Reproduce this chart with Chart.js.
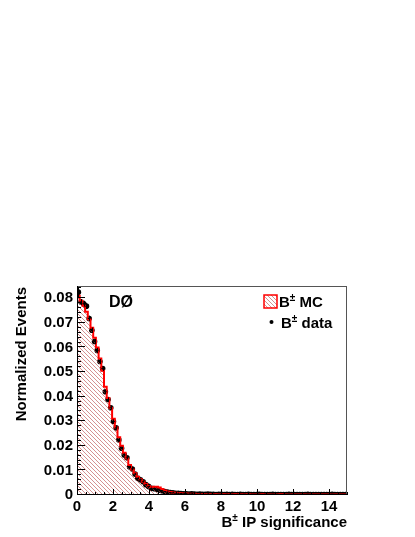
<!DOCTYPE html>
<html>
<head>
<meta charset="utf-8">
<script src="https://cdn.jsdelivr.net/npm/chart.js@4.4.1/dist/chart.umd.min.js"></script>
<style>
html,body{margin:0;padding:0;background:#fff;}
canvas{display:block;}
</style>
</head>
<body>
<canvas id="c" width="415" height="537"></canvas>
<script>
// histogram binning (0 - 15, 100 bins)
const binWidth = 0.15;
const nBins = 100;

// B± MC, normalized
const mcValues = [
 0.0810,0.0790,0.0770,0.0745,0.0715,0.0680,0.0640,0.0600,0.0555,0.0505,
 0.0440,0.0395,0.0355,0.0310,0.0275,0.0235,0.0200,0.0172,0.0148,0.0122,
 0.0104,0.0088,0.0074,0.0064,0.0054,0.0045,0.0037,0.0031,0.0034,0.0034,
 0.0030,0.0024,0.0018,0.0014,0.0012,0.0010,0.0009,0.0008,0.0007,0.0006,
 0.0006,0.0005,0.0005,0.0005,0.0004,0.0004,0.0004,0.0004,0.0003,0.0004,
 0.0003,0.0003,0.0003,0.0003,0.0003,0.0003,0.0002,0.0003,0.0003,0.0002,
 0.0003,0.0002,0.0002,0.0003,0.0002,0.0002,0.0002,0.0002,0.0003,0.0002,
 0.0002,0.0002,0.0002,0.0002,0.0002,0.0003,0.0002,0.0002,0.0002,0.0002,
 0.0002,0.0002,0.0002,0.0002,0.0002,0.0002,0.0002,0.0002,0.0002,0.0002,
 0.0002,0.0002,0.0002,0.0002,0.0002,0.0002,0.0002,0.0002,0.0002,0.0002
];

// B± data, normalized
const dataValues = [
 0.0825,0.0785,0.0778,0.0768,0.0718,0.0670,0.0624,0.0588,0.0543,0.0514,
 0.0420,0.0388,0.0355,0.0299,0.0273,0.0224,0.0190,0.0163,0.0151,0.0114,
 0.0106,0.0085,0.0068,0.0062,0.0054,0.0042,0.0035,0.0027,0.0026,0.0023,
 0.0020,0.0017,0.0014,0.0012,0.0010,0.0009,0.0007,0.0007,0.0006,0.0005,
 0.0005,0.0004,0.0005,0.0004,0.0003,0.0004,0.0003,0.0003,0.0004,0.0003,
 0.0003,0.0002,0.0003,0.0003,0.0002,0.0003,0.0002,0.0003,0.0002,0.0002,
 0.0003,0.0002,0.0002,0.0003,0.0002,0.0002,0.0002,0.0003,0.0002,0.0002,
 0.0002,0.0002,0.0003,0.0002,0.0002,0.0002,0.0002,0.0002,0.0003,0.0002,
 0.0002,0.0002,0.0002,0.0002,0.0002,0.0003,0.0002,0.0002,0.0002,0.0002,
 0.0002,0.0002,0.0002,0.0002,0.0003,0.0002,0.0002,0.0002,0.0002,0.0002
];

// statistical errors on data
const dataErrors = [
 0.0022,0.0012,0.0012,0.0012,0.0011,0.0011,0.0011,0.0010,0.0010,0.0010,
 0.0009,0.0009,0.0008,0.0008,0.0007,0.0007,0.0006,0.0006,0.0006,0.0005,
 0.0005,0.0004,0.0004,0.0004,0.0003,0.0003,0.0003,0.0003,0.0003,0.0002,
 0.0002,0.0002,0.0002,0.0002,0.0002,0.0002,0.0002,0.0002,0.0002,0.0002,
 0.0002,0.0002,0.0002,0.0002,0.0002,0.0002,0.0002,0.0002,0.0002,0.0002,
 0.0001,0.0001,0.0001,0.0001,0.0001,0.0001,0.0001,0.0001,0.0001,0.0001,
 0.0001,0.0001,0.0001,0.0001,0.0001,0.0001,0.0001,0.0001,0.0001,0.0001,
 0.0001,0.0001,0.0001,0.0001,0.0001,0.0001,0.0001,0.0001,0.0001,0.0001,
 0.0001,0.0001,0.0001,0.0001,0.0001,0.0001,0.0001,0.0001,0.0001,0.0001,
 0.0001,0.0001,0.0001,0.0001,0.0001,0.0001,0.0001,0.0001,0.0001,0.0001
];

const xTicks = [0, 2, 4, 6, 8, 10, 12, 14];
const yTicks = [0, 0.01, 0.02, 0.03, 0.04, 0.05, 0.06, 0.07, 0.08];
const xMinorStep = 0.5;
const yMinorStep = 0.002;
const xMax = 15, yMax = 0.085;

const FONT = '"Liberation Sans", Arial, Helvetica, sans-serif';

// bin edges / centres
const binCenters = dataValues.map((_, i) => (i + 0.5) * binWidth);
const mcOutline = [];
mcValues.forEach((v, i) => {
  mcOutline.push({x: i * binWidth, y: v});
  mcOutline.push({x: (i + 1) * binWidth, y: v});
});
const dataPoints = dataValues.map((v, i) => ({x: binCenters[i], y: v}));

// thin red hatch, lines running down to the right
function makeHatch() {
  const p = document.createElement('canvas');
  p.width = 4; p.height = 4;
  const g = p.getContext('2d');
  g.strokeStyle = 'rgb(185,70,70)';
  g.lineWidth = 0.6;
  g.beginPath();
  g.moveTo(-1, -1); g.lineTo(5, 5);
  g.moveTo(-1, 3); g.lineTo(1, 5);
  g.moveTo(3, -1); g.lineTo(5, 1);
  g.stroke();
  return g.createPattern(p, 'repeat');
}
const hatch = makeHatch();

// text with superscript pieces
function richWidth(ctx, parts) {
  let w = 0;
  parts.forEach(p => { ctx.font = 'bold ' + p.size + 'px ' + FONT; w += ctx.measureText(p.t).width; });
  return w;
}
function drawRich(ctx, parts, x, y) {
  ctx.textBaseline = 'alphabetic';
  ctx.textAlign = 'left';
  parts.forEach(p => {
    ctx.font = 'bold ' + p.size + 'px ' + FONT;
    ctx.fillText(p.t, x, y + (p.dy || 0));
    x += ctx.measureText(p.t).width;
  });
}

const rootDecor = {
  id: 'rootDecor',
  afterDatasetsDraw(chart) {
    const {ctx, chartArea: a, scales: {x, y}} = chart;
    ctx.save();
    ctx.beginPath();
    ctx.rect(a.left, a.top, a.right - a.left, a.bottom - a.top);
    ctx.clip();
    ctx.strokeStyle = '#000';
    ctx.lineWidth = 1;
    ctx.beginPath();
    dataValues.forEach((v, i) => {
      const xc = Math.round(x.getPixelForValue(binCenters[i])) + 0.5;
      const x0 = x.getPixelForValue(binCenters[i] - binWidth / 2);
      const x1 = x.getPixelForValue(binCenters[i] + binWidth / 2);
      const yc = y.getPixelForValue(v);
      ctx.moveTo(xc, y.getPixelForValue(v - dataErrors[i]));
      ctx.lineTo(xc, y.getPixelForValue(v + dataErrors[i]));
      ctx.moveTo(x0, yc);
      ctx.lineTo(x1, yc);
    });
    ctx.stroke();
    ctx.restore();
  },
  afterDraw(chart) {
    const {ctx, chartArea: a, scales: {x, y}} = chart;
    ctx.save();
    // frame
    ctx.strokeStyle = '#555';
    ctx.lineWidth = 1;
    ctx.strokeRect(a.left + 0.5, a.top + 0.5, a.right - a.left - 1, a.bottom - a.top - 1);
    ctx.strokeStyle = '#000';
    ctx.beginPath();
    ctx.moveTo(a.left + 0.5, a.top); ctx.lineTo(a.left + 0.5, a.bottom);
    ctx.moveTo(a.left, a.bottom - 0.5); ctx.lineTo(a.right, a.bottom - 0.5);
    // ticks pointing into the frame
    for (let v = 0; v <= yMax + 1e-9; v += yMinorStep) {
      const py = Math.round(y.getPixelForValue(v)) - 0.5;
      const major = yTicks.some(t => Math.abs(t - v) < 1e-9);
      ctx.moveTo(a.left, py); ctx.lineTo(a.left + (major ? 8 : 4), py);
    }
    for (let v = 0; v <= xMax + 1e-9; v += xMinorStep) {
      const px = Math.round(x.getPixelForValue(v)) + 0.5;
      const major = xTicks.some(t => Math.abs(t - v) < 1e-9);
      ctx.moveTo(px, a.bottom); ctx.lineTo(px, a.bottom - (major ? 6 : 3));
    }
    ctx.stroke();

    ctx.fillStyle = '#000';
    // experiment label
    drawRich(ctx, [{t: 'DØ', size: 16}], 109, 307);

    // legend
    ctx.fillStyle = hatch;
    ctx.fillRect(264, 295, 13, 13);
    ctx.strokeStyle = '#f00';
    ctx.lineWidth = 1.5;
    ctx.strokeRect(264, 295, 13, 13);
    ctx.fillStyle = '#000';
    const mcLabel = [{t: 'B', size: 15}, {t: '±', size: 10, dy: -6}, {t: ' MC', size: 15}];
    drawRich(ctx, mcLabel, 279, 307);
    ctx.beginPath();
    ctx.arc(271.5, 322, 2, 0, Math.PI * 2);
    ctx.fill();
    const dataLabel = [{t: 'B', size: 15}, {t: '±', size: 10, dy: -6}, {t: ' data', size: 15}];
    drawRich(ctx, dataLabel, 281, 328);

    // axis titles
    const xTitle = [{t: 'B', size: 15}, {t: '±', size: 10, dy: -6}, {t: ' IP significance', size: 15}];
    drawRich(ctx, xTitle, a.right - richWidth(ctx, xTitle), 527);
    ctx.save();
    ctx.translate(26, a.top + 1);
    ctx.rotate(-Math.PI / 2);
    ctx.font = 'bold 15px ' + FONT;
    ctx.textAlign = 'right';
    ctx.textBaseline = 'alphabetic';
    ctx.fillText('Normalized Events', 0, 0);
    ctx.restore();
    ctx.restore();
  }
};

new Chart(document.getElementById('c'), {
  type: 'line',
  data: {
    datasets: [
      {
        label: 'B± MC',
        data: mcOutline,
        borderColor: '#ff0000',
        borderWidth: 2,
        backgroundColor: hatch,
        fill: 'origin',
        pointRadius: 0,
        tension: 0
      },
      {
        label: 'B± data',
        data: dataPoints,
        showLine: false,
        pointRadius: 2.8,
        pointBackgroundColor: '#000',
        pointBorderColor: '#000',
        pointBorderWidth: 0
      }
    ]
  },
  options: {
    responsive: false,
    animation: false,
    devicePixelRatio: 1,
    layout: {padding: {top: 286, right: 68, left: 0, bottom: 0}},
    plugins: {legend: {display: false}, tooltip: {enabled: false}},
    scales: {
      x: {
        type: 'linear',
        min: 0,
        max: xMax,
        afterFit: s => { s.height = 42; },
        afterBuildTicks: s => { s.ticks = xTicks.map(v => ({value: v})); },
        grid: {display: false, drawTicks: false},
        border: {display: false},
        ticks: {
          padding: 3,
          color: '#000',
          font: {family: FONT, size: 15, weight: 'bold'},
          maxRotation: 0,
          callback: v => String(v)
        }
      },
      y: {
        type: 'linear',
        min: 0,
        max: yMax,
        afterFit: s => { s.width = 77; },
        afterBuildTicks: s => { s.ticks = yTicks.map(v => ({value: v})); },
        grid: {display: false, drawTicks: false},
        border: {display: false},
        ticks: {
          padding: 4,
          color: '#000',
          font: {family: FONT, size: 15, weight: 'bold'},
          callback: v => v === 0 ? '0' : v.toFixed(2)
        }
      }
    }
  },
  plugins: [rootDecor]
});
</script>
</body>
</html>
